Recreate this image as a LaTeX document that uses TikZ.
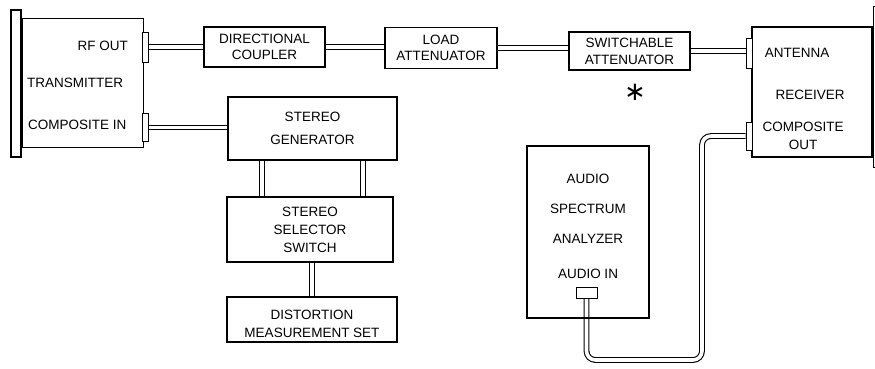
\documentclass[tikz,border=0pt]{standalone}
\usepackage{fontspec}
\setmainfont{Liberation Sans}
\newfontfamily\djv{DejaVu Sans}
\usetikzlibrary{backgrounds}
\tikzset{
  x=1pt, y=-1pt,
  box/.style={draw, line width=1.2pt, inner sep=0pt, align=center,
    font=\fontsize{13.5}{18}\selectfont},
  plug/.style={draw, line width=1pt, inner sep=0pt, fill=white},
  lbl/.style={inner sep=0pt, font=\fontsize{13.5}{18}\selectfont, align=center},
  cable/.style={draw=black, double=white, double distance=3.6pt, line width=1.1pt},
}
\begin{document}
\begin{tikzpicture}
\useasboundingbox (0,0) rectangle (875,368);
\clip (0,0) rectangle (875,368);
% transmitter
\node[box, minimum width=10pt, minimum height=147pt] (txpanel) at (16,83.5) {};
\node[box, minimum width=121pt, minimum height=129pt, anchor=west] (tx) at (txpanel.east |- 0,83) {};
\node[plug, minimum width=6pt, minimum height=30pt] (txrf) at (145,47) {};
\node[plug, minimum width=6pt, minimum height=28pt] (txci) at (145,127.5) {};
\node[lbl, anchor=east] (trf) at (128,46) {RF OUT};
\node[lbl, anchor=west] (ttx) at (27,83) {TRANSMITTER};
\node[lbl, anchor=west] (tci) at (28,125) {COMPOSITE IN};
% chain
\node[box, minimum width=121pt, minimum height=40pt, font=\fontsize{13.5}{16}\selectfont] (dc) at (264.5,47) {DIRECTIONAL\\COUPLER};
\node[box, minimum width=112pt, minimum height=41pt, font=\fontsize{13.5}{16}\selectfont] (la) at (441,48) {LOAD\\ATTENUATOR};
\node[box, minimum width=121pt, minimum height=38pt, font=\fontsize{13.5}{17}\selectfont] (sa) at (629.5,51) {SWITCHABLE\\ATTENUATOR};
\node[lbl, font=\djv\fontsize{26}{26}\selectfont] (star) at (635,92) {∗};
% receiver
\node[box, minimum width=120pt, minimum height=130pt] (rx) at (812,92) {};
\node[box, minimum width=10pt, minimum height=161pt, anchor=west] (rxpanel) at (rx.east |- 0,87) {};
\node[plug, minimum width=6pt, minimum height=30pt] (ant) at (749,53) {};
\node[plug, minimum width=6pt, minimum height=28pt] (co) at (749,136) {};
\node[lbl] (tant) at (797,53) {ANTENNA};
\node[lbl] (trx) at (810,95) {RECEIVER};
\node[lbl] (tco) at (803,136) {COMPOSITE\\OUT};
% stereo chain
\node[box, minimum width=169pt, minimum height=63pt, font=\fontsize{13.5}{23}\selectfont] (sg) at (312.5,128.5) {STEREO\\GENERATOR};
\node[box, minimum width=166pt, minimum height=65pt] (sss) at (310,229.5) {STEREO\\SELECTOR\\SWITCH};
\node[box, minimum width=170pt, minimum height=45pt] (dms) at (312,319.5) {};
\node[lbl] (tdms) at (312,324) {DISTORTION\\MEASUREMENT SET};
% analyzer
\node[box, minimum width=122pt, minimum height=172pt] (asa) at (588,232) {};
\node[lbl, font=\fontsize{13.5}{30}\selectfont] (tasa) at (588,226) {AUDIO\\SPECTRUM\\ANALYZER\\[5pt]AUDIO IN};
\node[plug, minimum width=21pt, minimum height=11pt] (ain) at (586.5,292.5) {};
\coordinate (bend) at (702,360);
\coordinate (xl) at (262,0);
\coordinate (xr) at (363,0);
% cables
\begin{scope}[on background layer]
\draw[cable] (txrf.east) -- (txrf.east -| dc.west);
\draw[cable] (dc.east) -- (dc.east -| la.west);
\draw[cable] (la.east) -- (la.east -| sa.west);
\draw[cable] (sa.east) -- (sa.east -| ant.west);
\draw[cable] (txci.east) -- (txci.east -| sg.west);
\draw[cable] (sg.south -| xl) -- (sss.north -| xl);
\draw[cable] (sg.south -| xr) -- (sss.north -| xr);
\draw[cable] (sss.south -| dms.north) -- (dms.north);
\draw[cable, rounded corners=9pt] (ain.south) |- (bend) |- (co.west);
\end{scope}
\end{tikzpicture}
\end{document}
